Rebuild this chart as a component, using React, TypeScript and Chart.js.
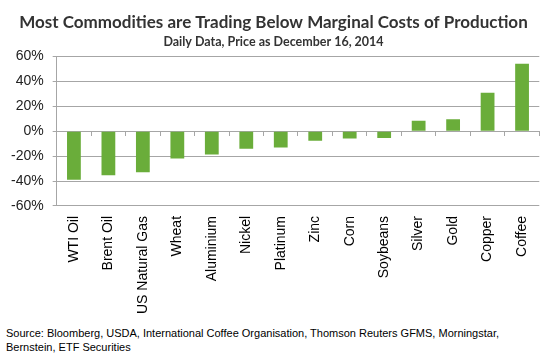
import React, { useEffect, useRef } from "react";
import { Chart, registerables } from "chart.js";

Chart.register(...registerables);

const titleText = "Most Commodities are Trading Below Marginal Costs of Production";
const subtitleText = "Daily Data, Price as December 16, 2014";
const sourceLines = [
  "Source: Bloomberg, USDA, International Coffee Organisation, Thomson Reuters GFMS, Morningstar,",
  "Bernstein, ETF Securities",
];

const categories = [
  "WTI Oil",
  "Brent Oil",
  "US Natural Gas",
  "Wheat",
  "Aluminium",
  "Nickel",
  "Platinum",
  "Zinc",
  "Corn",
  "Soybeans",
  "Silver",
  "Gold",
  "Copper",
  "Coffee",
];
const values = [-39, -35.3, -33, -22, -18.7, -14, -13, -7.6, -5.8, -5.5, 8.4, 9.5, 30.8, 54.2];

const yMin = -60;
const yMax = 60;
const yStep = 20;

const GREEN = "#6AAD3A";
const GRID = "#A6A6A6";
const SANS = "'Liberation Sans', Arial, sans-serif";

export default function App() {
  const ref = useRef<HTMLCanvasElement | null>(null);

  useEffect(() => {
    if (!ref.current) return;
    const chart = new Chart(ref.current, {
      type: "bar",
      data: {
        labels: categories,
        datasets: [
          {
            data: values,
            backgroundColor: GREEN,
            borderWidth: 0,
            barPercentage: 0.4,
            categoryPercentage: 1,
            xAxisID: "x",
          },
        ],
      },
      options: {
        responsive: false,
        animation: false,
        maintainAspectRatio: false,
        layout: { padding: { left: 2, right: 4, top: 0, bottom: 0 } },
        plugins: {
          legend: { display: false },
          tooltip: { enabled: false },
          title: {
            display: true,
            text: titleText,
            color: "#333333",
            font: { family: "Lato", size: 17, weight: "bold" },
            padding: { top: 12, bottom: 2 },
          },
          subtitle: {
            display: true,
            text: subtitleText,
            color: "#333333",
            font: { family: "Lato", size: 12.5, weight: "bold" },
            padding: { top: 0, bottom: 7 },
          },
        },
        scales: {
          x: {
            position: "bottom",
            grid: { display: false, drawTicks: false },
            border: { display: false },
            ticks: {
              color: "#000000",
              font: { family: SANS, size: 14 },
              maxRotation: 90,
              minRotation: 90,
              padding: 10,
              autoSkip: false,
            },
          },
          xZero: {
            type: "category",
            labels: categories,
            position: { y: 0 },
            offset: true,
            grid: {
              offset: true,
              drawOnChartArea: false,
              drawTicks: true,
              tickLength: 4,
              color: GRID,
            },
            border: { display: true, color: GRID, width: 1 },
            ticks: { display: false },
          },
          y: {
            min: yMin,
            max: yMax,
            grid: { color: GRID, tickLength: 4, drawTicks: true },
            border: { display: true, color: GRID },
            ticks: {
              stepSize: yStep,
              color: "#222222",
              padding: 9,
              font: { family: SANS, size: 14 },
              callback: (v: any) => `${v}%`,
            },
          },
        },
      },
    });
    return () => chart.destroy();
  }, []);

  return (
    <div style={{ position: "absolute", left: 0, top: 0, width: 549, height: 358, background: "#fff" }}>
      <canvas ref={ref} width={549} height={324} style={{ display: "block" }} />
      <div
        style={{
          position: "absolute",
          left: 6,
          top: 326,
          fontFamily: SANS,
          fontSize: 11,
          lineHeight: "14px",
          color: "#000",
        }}
      >
        {sourceLines[0]}
        <br />
        {sourceLines[1]}
      </div>
    </div>
  );
}
